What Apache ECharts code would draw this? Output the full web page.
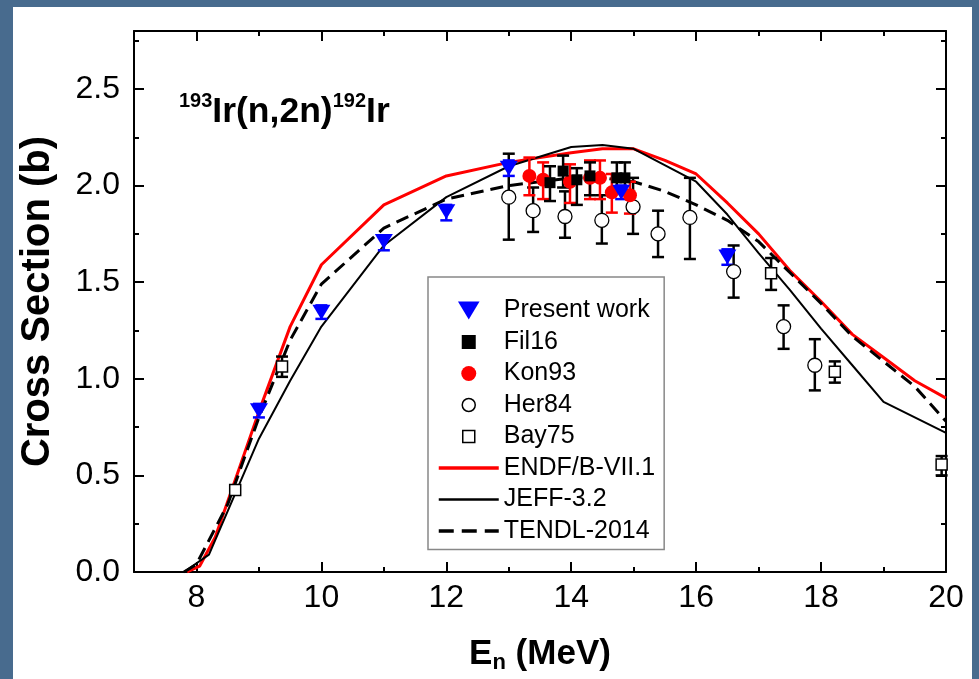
<!DOCTYPE html>
<html><head><meta charset="utf-8">
<script src="https://cdn.jsdelivr.net/npm/echarts@6/dist/echarts.min.js"></script>
<style>
html,body{margin:0;padding:0;background:#486b8e;width:979px;height:679px;overflow:hidden}
#card{position:absolute;left:13px;top:7px;width:959px;height:672px;background:#fff}
#chart{position:absolute;left:0;top:0;width:979px;height:679px}
</style></head><body><div id="card"></div><div id="chart"></div>
<script>
// ---- data (x in MeV, y in barn; points: [x, y, yLow, yHigh]) ----
const xRange = [7, 20];
const yRange = [0, 2.8];
const legendNames = ['Present work', 'Fil16', 'Kon93', 'Her84', 'Bay75', 'ENDF/B-VII.1', 'JEFF-3.2', 'TENDL-2014'];

const presentWork = [[9.0,0.835,0.80,0.87],[10.0,1.345,1.31,1.38],[11.0,1.71,1.665,1.74],[12.0,1.865,1.82,1.90],[13.0,2.09,2.05,2.13],[14.8,1.965,1.93,2.0],[16.5,1.63,1.59,1.67]];
const fil16 = [[13.66,2.015,1.92,2.10],[13.87,2.075,1.99,2.155],[14.09,2.03,1.90,2.09],[14.3,2.05,1.95,2.12],[14.73,2.04,1.97,2.12],[14.86,2.04,1.97,2.12]];
const kon93 = [[13.33,2.05,1.95,2.145],[13.55,2.03,1.93,2.12],[13.98,2.02,1.91,2.11],[14.3,2.04,1.93,2.13],[14.46,2.04,1.93,2.13],[14.65,1.965,1.86,2.06],[14.94,1.95,1.855,2.02]];
const her84 = [[13.0,1.94,1.72,2.165],[13.39,1.87,1.76,1.99],[13.9,1.84,1.73,1.97],[14.49,1.82,1.70,1.95],[14.99,1.89,1.75,2.04],[15.39,1.75,1.63,1.87],[15.9,1.835,1.62,2.04],[16.6,1.555,1.42,1.69],[17.4,1.27,1.155,1.38],[17.9,1.07,0.94,1.205]];
const bay75 = [[8.62,0.425,0.425,0.425],[9.37,1.063,1.01,1.115],[17.2,1.546,1.46,1.625],[18.22,1.036,0.98,1.09],[19.93,0.557,0.50,0.60]];

const endf = [[7.85,0],[8.05,0.03],[8.3,0.18],[8.7,0.55],[9.0,0.83],[9.5,1.27],[10,1.59],[11,1.90],[12,2.05],[13,2.12],[14,2.17],[14.5,2.19],[15,2.19],[15.5,2.13],[16,2.06],[16.5,1.91],[17,1.75],[17.5,1.56],[18,1.40],[18.5,1.23],[19,1.11],[19.5,0.99],[20,0.90]];
const jeff = [[7.8,0],[8.2,0.09],[8.6,0.39],[9,0.69],[9.5,0.99],[10,1.27],[11,1.69],[12,1.94],[13,2.10],[14,2.20],[14.5,2.21],[15,2.19],[16,2.02],[16.5,1.85],[17,1.65],[17.5,1.46],[18,1.26],[18.5,1.07],[19,0.88],[20,0.72]];
const tendl = [[7.8,0],[8.0,0.04],[8.5,0.35],[9,0.80],[9.5,1.2],[10,1.49],[11,1.78],[12,1.93],[13,2.0],[14,2.04],[14.5,2.04],[15,2.02],[15.5,1.97],[16,1.90],[16.5,1.82],[17,1.71],[17.5,1.55],[18,1.39],[18.5,1.22],[19,1.09],[19.5,0.96],[20,0.78]];

// ---- chart ----
const FONT = '"Liberation Sans", Arial, Helvetica, sans-serif';
const chart = echarts.init(document.getElementById('chart'), null, {renderer: 'canvas'});

function errRender(color) {
  return function (params, api) {
    const x = api.value(0), lo = api.value(2), hi = api.value(3);
    if (hi - lo < 1e-6) return null;
    const p1 = api.coord([x, hi]), p2 = api.coord([x, lo]);
    const w = 6, st = {stroke: color, lineWidth: 2.5};
    return {type: 'group', children: [
      {type: 'line', shape: {x1: p1[0], y1: p1[1], x2: p2[0], y2: p2[1]}, style: st},
      {type: 'line', shape: {x1: p1[0] - w, y1: p1[1], x2: p1[0] + w, y2: p1[1]}, style: st},
      {type: 'line', shape: {x1: p2[0] - w, y1: p2[1], x2: p2[0] + w, y2: p2[1]}, style: st}
    ]};
  };
}
function errSeries(name, data, color) {
  return {type: 'custom', name: name + ' err', data: data, renderItem: errRender(color),
    encode: {x: 0, y: 1}, z: 3, silent: true};
}
const triPath = 'path://M0,0 L12,0 L6,10 Z';

const axisLineStyle = {color: '#000', width: 2};
function majorX(pos, showLabel) {
  return {type: 'value', position: pos, min: xRange[0], max: xRange[1], splitNumber: 6,
    axisLine: {show: true, onZero: false, lineStyle: axisLineStyle},
    axisTick: {show: true, inside: true, length: 10, lineStyle: {color: '#000', width: 2}},
    axisLabel: {show: showLabel, fontSize: 32, color: '#000', fontFamily: FONT, margin: 10, showMinLabel: false},
    splitLine: {show: false}};
}
function minorX(pos) {
  return {type: 'value', position: pos, min: xRange[0], max: xRange[1], interval: 1,
    axisLine: {show: false, onZero: false}, axisLabel: {show: false}, splitLine: {show: false},
    axisTick: {show: true, inside: true, length: 5, lineStyle: {color: '#000', width: 2}}};
}
function majorY(pos, showLabel) {
  return {type: 'value', position: pos, min: yRange[0], max: yRange[1], interval: 0.5,
    axisLine: {show: true, onZero: false, lineStyle: axisLineStyle},
    axisTick: {show: true, inside: true, length: 10, lineStyle: {color: '#000', width: 2}},
    axisLabel: {show: showLabel, fontSize: 32, color: '#000', fontFamily: FONT, margin: 14, showMaxLabel: false,
      formatter: v => v.toFixed(1)},
    splitLine: {show: false}};
}
function minorY(pos) {
  return {type: 'value', position: pos, min: yRange[0], max: yRange[1], interval: 0.25,
    axisLine: {show: false, onZero: false}, axisLabel: {show: false}, splitLine: {show: false},
    axisTick: {show: true, inside: true, length: 5, lineStyle: {color: '#000', width: 2}}};
}

const xb = majorX('bottom', true);
xb.name = '{e|E}{n|n}{e| (MeV)}';
xb.nameLocation = 'middle';
xb.nameGap = 62;
xb.nameTextStyle = {rich: {
  e: {fontSize: 35, fontWeight: 'bold', color: '#000', fontFamily: FONT, lineHeight: 40},
  n: {fontSize: 22, fontWeight: 'bold', color: '#000', fontFamily: FONT, verticalAlign: 'bottom', lineHeight: 14}
}};
const yl = majorY('left', true);
yl.name = 'Cross Section (b)';
yl.nameLocation = 'middle';
yl.nameGap = 76;
yl.nameTextStyle = {fontSize: 40, fontWeight: 'bold', color: '#000', fontFamily: FONT};

const option = {
  animation: false,
  backgroundColor: 'transparent',
  title: {
    text: '{s|193}{b|Ir(n,2n)}{s|192}{b|Ir}',
    left: 179, top: 91, padding: 0,
    textStyle: {rich: {
      s: {fontSize: 20, fontWeight: 'bold', color: '#000', fontFamily: FONT, verticalAlign: 'top', lineHeight: 14},
      b: {fontSize: 35.5, fontWeight: 'bold', color: '#000', fontFamily: FONT, lineHeight: 42}
    }}
  },
  grid: {left: 134, right: 33, top: 31, bottom: 106, containLabel: false},
  xAxis: [xb, minorX('bottom'), majorX('top', false), minorX('top')],
  yAxis: [yl, minorY('left'), majorY('right', false), minorY('right')],
  legend: {
    orient: 'vertical', left: 428, top: 277, padding: [21, 9, 6, 9],
    itemWidth: 60, itemHeight: 18, itemGap: 6.5,
    borderColor: '#888', borderWidth: 1.5, selectedMode: false,
    textStyle: {fontSize: 25, color: '#000', fontFamily: FONT},
    data: [
      {name: legendNames[0], icon: triPath, itemStyle: {color: '#0000ff', borderWidth: 0}},
      {name: legendNames[1], icon: 'path://M2,2 L16,2 L16,16 L2,16 Z M0,0 M18,18', itemStyle: {color: '#000', borderWidth: 0}},
      {name: legendNames[2], icon: 'path://M9,1.5 A7.5,7.5 0 1 1 9,16.5 A7.5,7.5 0 1 1 9,1.5 Z M0,0 M18,18', itemStyle: {color: '#ff0000', borderWidth: 0}},
      {name: legendNames[3], icon: 'path://M9,2.5 A6.5,6.5 0 1 1 9,15.5 A6.5,6.5 0 1 1 9,2.5 Z M0,0 M18,18', itemStyle: {color: '#fff', borderColor: '#000', borderWidth: 1.5}},
      {name: legendNames[4], icon: 'path://M3,3 L15,3 L15,15 L3,15 Z M0,0 M18,18', itemStyle: {color: '#fff', borderColor: '#000', borderWidth: 1.5}},
      {name: legendNames[5], itemStyle: {opacity: 0}, lineStyle: {width: 3.5, color: '#ff0000'}},
      {name: legendNames[6], itemStyle: {opacity: 0}, lineStyle: {width: 2.5, color: '#000'}},
      {name: legendNames[7], itemStyle: {opacity: 0}, lineStyle: {width: 3.5, color: '#000', type: [15, 8]}}
    ]
  },
  series: [
    {type: 'line', name: legendNames[5], data: endf, symbol: 'none', z: 2, silent: true,
      lineStyle: {color: '#ff0000', width: 3}, itemStyle: {color: '#ff0000'}},
    {type: 'line', name: legendNames[6], data: jeff, symbol: 'none', z: 2, silent: true,
      lineStyle: {color: '#000', width: 2}, itemStyle: {color: '#000'}},
    {type: 'line', name: legendNames[7], data: tendl, symbol: 'none', z: 2, silent: true,
      lineStyle: {color: '#000', width: 3, type: [13, 7]}, itemStyle: {color: '#000'}},
    errSeries('Bay75', bay75, '#000'),
    {type: 'scatter', name: legendNames[4], data: bay75, symbol: 'rect', symbolSize: 11, z: 4, silent: true,
      itemStyle: {color: '#fff', borderColor: '#000', borderWidth: 1.5, opacity: 1}},
    errSeries('Her84', her84, '#000'),
    {type: 'scatter', name: legendNames[3], data: her84, symbol: 'circle', symbolSize: 14, z: 4, silent: true,
      itemStyle: {color: '#fff', borderColor: '#000', borderWidth: 1.3, opacity: 1}},
    errSeries('Kon93', kon93, '#ff0000'),
    {type: 'scatter', name: legendNames[2], data: kon93, symbol: 'circle', symbolSize: 14, z: 4, silent: true,
      itemStyle: {color: '#ff0000', opacity: 1}},
    errSeries('Fil16', fil16, '#000'),
    {type: 'scatter', name: legendNames[1], data: fil16, symbol: 'rect', symbolSize: 11, z: 4, silent: true,
      itemStyle: {color: '#000', opacity: 1}},
    errSeries('Present work', presentWork, '#0000ff'),
    {type: 'scatter', name: legendNames[0], data: presentWork, symbol: triPath, symbolSize: [18, 15], z: 5, silent: true,
      itemStyle: {color: '#0000ff', opacity: 1}}
  ]
};
chart.setOption(option);
</script></body></html>
